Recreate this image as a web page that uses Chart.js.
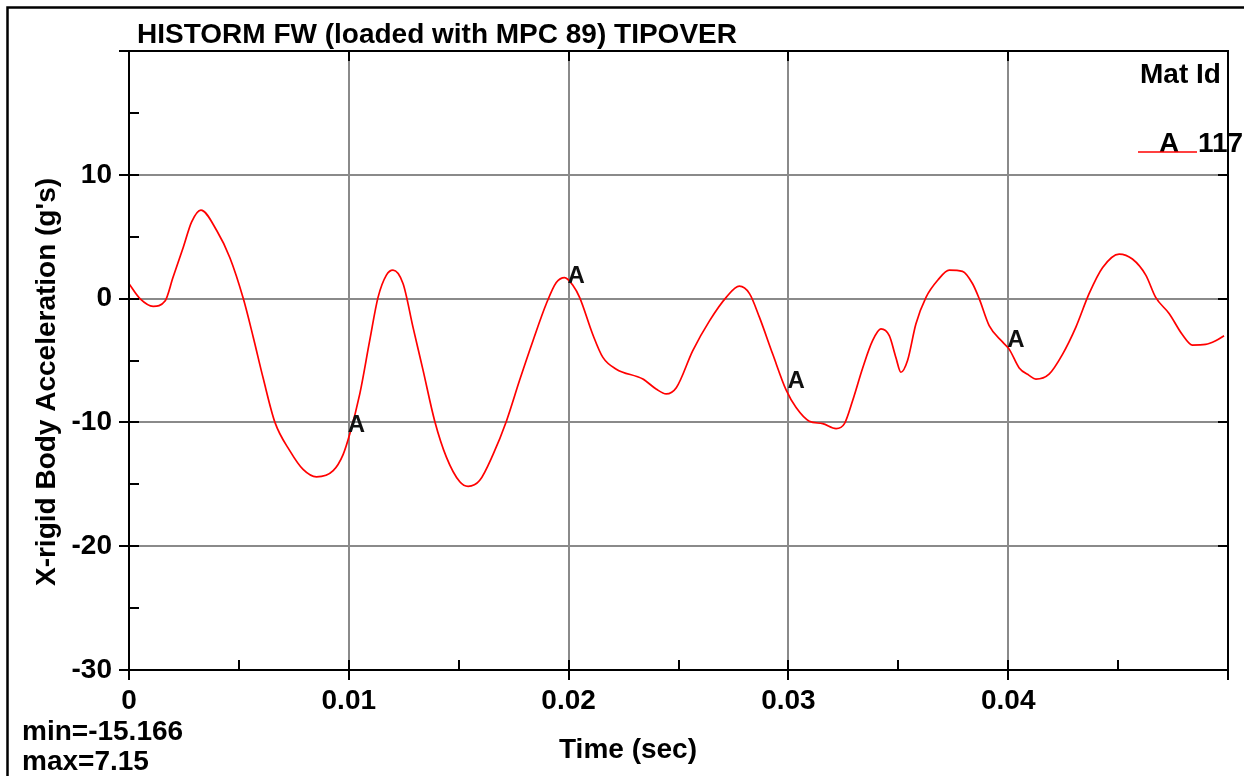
<!DOCTYPE html>
<html>
<head>
<meta charset="utf-8">
<script src="https://cdn.jsdelivr.net/npm/chart.js@4"></script>
<style>
  html, body { margin: 0; padding: 0; background: #fff; }
  canvas { display: block; }
</style>
</head>
<body>
<canvas id="chart" width="1244" height="776"></canvas>
<script>
// time (sec)
const timeValues = [
    0, 0.0005, 0.0011, 0.00164, 0.002, 0.00247, 0.00285, 0.00327, 0.00399, 0.00459,
    0.0052, 0.00565, 0.0061, 0.00664, 0.00732, 0.00792, 0.00853, 0.00929, 0.00974, 0.01005,
    0.0105, 0.01095, 0.01133, 0.01171, 0.01201, 0.01247, 0.01292, 0.01338, 0.01391, 0.01444,
    0.01505, 0.01543, 0.01595, 0.01656, 0.01717, 0.01777, 0.01838, 0.01899, 0.01944, 0.01982,
    0.0202, 0.0205, 0.0211, 0.02156, 0.02217, 0.02338, 0.02398, 0.02444, 0.0249, 0.02565,
    0.02641, 0.02717, 0.02777, 0.02823, 0.02868, 0.02929, 0.0299, 0.03035, 0.03095, 0.03156,
    0.03217, 0.03255, 0.03292, 0.03338, 0.03383, 0.03421, 0.03459, 0.03489, 0.03512, 0.03542,
    0.0358, 0.03626, 0.0368, 0.03732, 0.03792, 0.03838, 0.03868, 0.03914, 0.03974, 0.04005,
    0.0405, 0.04095, 0.04126, 0.04186, 0.04247, 0.04308, 0.04368, 0.04429, 0.04505, 0.04565,
    0.04626, 0.04671, 0.04732, 0.04792, 0.04838, 0.04898, 0.04944, 0.04982
];

// X-rigid body acceleration (g's), mat id 117
const accelValues = [
    1.2, 0.0, -0.62, -0.2, 1.7, 4.15, 6.2, 7.15, 5.5, 3.3,
    0.0, -3.1, -6.4, -10.0, -12.3, -13.8, -14.4, -13.9, -12.6, -10.9,
    -7.7, -3.4, 0.1, 1.9, 2.3, 1.2, -2.3, -5.8, -9.9, -12.8,
    -14.8, -15.166, -14.7, -12.6, -9.9, -6.6, -3.4, -0.4, 1.3, 1.7,
    1.05, 0.1, -2.9, -4.75, -5.7, -6.5, -7.3, -7.7, -7.2, -4.2,
    -1.8, 0.1, 1.0, 0.4, -1.5, -4.5, -7.4, -8.8, -9.9, -10.1,
    -10.5, -10.1, -8.25, -5.6, -3.4, -2.45, -3.0, -4.75, -5.95, -5.0,
    -2.05, 0.1, 1.5, 2.3, 2.2, 1.2, 0.0, -2.2, -3.5, -4.1,
    -5.6, -6.2, -6.5, -6.1, -4.5, -2.3, 0.4, 2.5, 3.6, 3.2,
    1.9, 0.1, -1.2, -2.9, -3.75, -3.7, -3.4, -3.0
];

// curve id letters placed along the line
const markerTimes = [0.01, 0.02, 0.03, 0.04];
const markerValues = [-10.9, 1.1, -7.4, -4.1];
const markerLetter = 'A';

const titleText = 'HISTORM FW (loaded with MPC 89) TIPOVER';
const xTitle = 'Time (sec)';
const yTitle = "X-rigid Body Acceleration (g's)";
const legendTitle = 'Mat Id';
const legendId = '117';
const minText = 'min=-15.166';
const maxText = 'max=7.15';

const FONT = "Arial, 'Liberation Sans', sans-serif";
const RED = '#ff0000';

const decorations = {
    id: 'decorations',
    afterDraw(chart) {
        const ctx = chart.ctx;
        const a = chart.chartArea;
        const xs = chart.scales.x;
        const ys = chart.scales.y;
        ctx.save();

        // plot frame
        ctx.strokeStyle = '#000';
        ctx.lineWidth = 2;
        ctx.strokeRect(a.left, a.top, a.right - a.left, a.bottom - a.top);

        // inward ticks: majors and minors on left/bottom, majors only on right/top
        ctx.beginPath();
        for (let v = -30; v <= 20; v += 5) {
            const py = Math.round(ys.getPixelForValue(v));
            ctx.moveTo(a.left, py); ctx.lineTo(a.left + 10, py);
            if (v % 10 === 0) { ctx.moveTo(a.right, py); ctx.lineTo(a.right - 10, py); }
        }
        for (let i = 0; i <= 10; i++) {
            const px = Math.round(xs.getPixelForValue(i * 0.005));
            ctx.moveTo(px, a.bottom); ctx.lineTo(px, a.bottom - 10);
            if (i % 2 === 0) { ctx.moveTo(px, a.top); ctx.lineTo(px, a.top + 10); }
        }
        ctx.stroke();

        // outer border
        ctx.lineWidth = 2.5;
        ctx.strokeRect(7.5, 7.5, 1400, 1400);

        ctx.fillStyle = '#000';
        ctx.textBaseline = 'alphabetic';
        ctx.font = 'bold 28px ' + FONT;

        ctx.textAlign = 'left';
        ctx.fillText(titleText, 137, 43);
        ctx.fillText(legendTitle, 1140, 83);
        ctx.fillText(markerLetter, 1159, 152);
        ctx.fillText(legendId, 1198, 152);
        ctx.fillText(minText, 22, 740);
        ctx.fillText(maxText, 22, 770);

        ctx.textAlign = 'center';
        ctx.fillText(xTitle, 628, 758);

        ctx.save();
        ctx.translate(47, 382);
        ctx.rotate(-Math.PI / 2);
        ctx.textBaseline = 'middle';
        ctx.fillText(yTitle, 0, 0);
        ctx.restore();

        // legend sample line
        ctx.strokeStyle = RED;
        ctx.lineWidth = 1.6;
        ctx.beginPath();
        ctx.moveTo(1138, 152);
        ctx.lineTo(1197, 152);
        ctx.stroke();

        // letters on the curve
        ctx.font = 'bold 24px ' + FONT;
        ctx.fillStyle = '#111';
        ctx.textAlign = 'left';
        chart.getDatasetMeta(1).data.forEach(function (el) {
            ctx.fillText(markerLetter, el.x - 1, el.y - 2);
        });

        ctx.restore();
    }
};

new Chart(document.getElementById('chart'), {
    type: 'line',
    data: {
        datasets: [
            {
                data: timeValues.map((t, i) => ({x: t, y: accelValues[i]})),
                borderColor: RED,
                borderWidth: 1.7,
                pointRadius: 0,
                fill: false,
                cubicInterpolationMode: 'monotone'
            },
            {
                data: markerTimes.map((t, i) => ({x: t, y: markerValues[i]})),
                showLine: false,
                pointRadius: 0,
                borderColor: RED
            }
        ]
    },
    options: {
        responsive: false,
        animation: false,
        layout: {padding: {left: 0, top: 51, right: 16, bottom: 0}},
        plugins: {
            legend: {display: false},
            title: {display: false},
            tooltip: {enabled: false}
        },
        scales: {
            x: {
                type: 'linear',
                min: 0,
                max: 0.05,
                afterFit: function (scale) { scale.height = 106; },
                border: {display: false},
                grid: {color: '#8a8a8a', lineWidth: 2, tickColor: '#000', tickLength: 10},
                ticks: {
                    stepSize: 0.01,
                    maxRotation: 0,
                    autoSkip: false,
                    color: '#000',
                    padding: 4,
                    font: {family: FONT, size: 28, weight: 'bold'},
                    callback: function (v) {
                        if (v > 0.0495) return '';
                        return v === 0 ? '0' : v.toFixed(2);
                    }
                }
            },
            y: {
                min: -30,
                max: 20,
                afterFit: function (scale) { scale.width = 129; },
                border: {display: false},
                grid: {color: '#8a8a8a', lineWidth: 2, tickColor: '#000', tickLength: 10},
                ticks: {
                    stepSize: 10,
                    color: '#000',
                    padding: 7,
                    font: {family: FONT, size: 28, weight: 'bold'},
                    callback: function (v) { return v === 20 ? '' : String(v); }
                }
            }
        }
    },
    plugins: [decorations]
});
</script>
</body>
</html>
